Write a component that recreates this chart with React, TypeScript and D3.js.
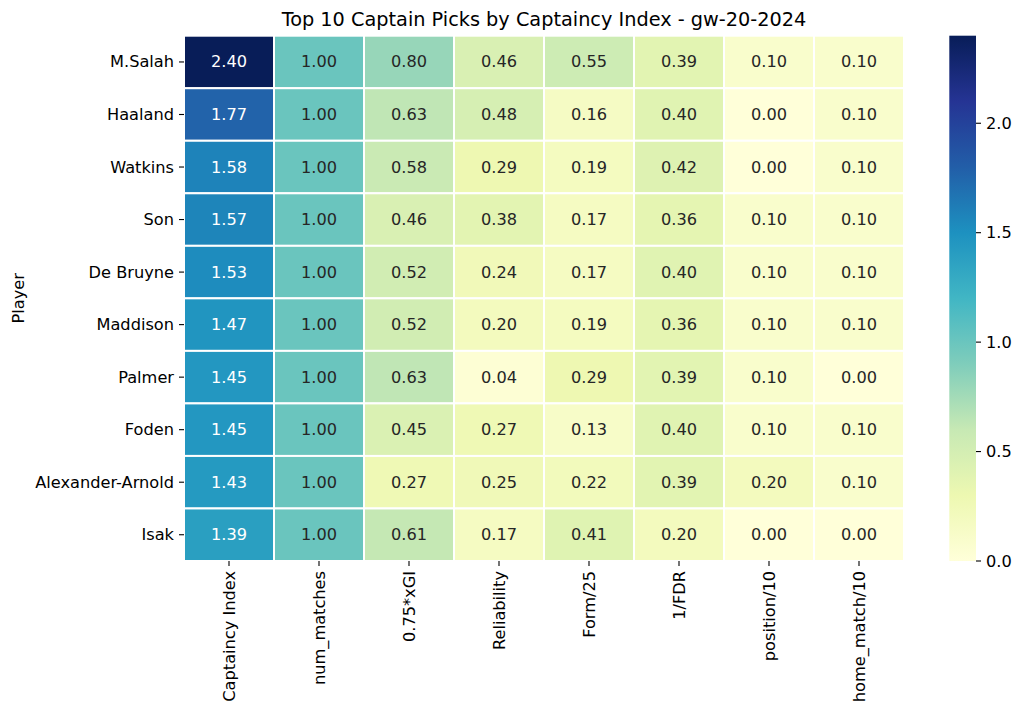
import React from "react";
import * as d3 from "d3";

const players = ["M.Salah", "Haaland", "Watkins", "Son", "De Bruyne", "Maddison", "Palmer", "Foden", "Alexander-Arnold", "Isak"];
const metrics = ["Captaincy Index", "num_matches", "0.75*xGI", "Reliability", "Form/25", "1/FDR", "position/10", "home_match/10"];

const captaincyIndex = [2.40, 1.77, 1.58, 1.57, 1.53, 1.47, 1.45, 1.45, 1.43, 1.39];
const numMatches = [1.00, 1.00, 1.00, 1.00, 1.00, 1.00, 1.00, 1.00, 1.00, 1.00];
const xGI = [0.80, 0.63, 0.58, 0.46, 0.52, 0.52, 0.63, 0.45, 0.27, 0.61];
const reliability = [0.46, 0.48, 0.29, 0.38, 0.24, 0.20, 0.04, 0.27, 0.25, 0.17];
const form = [0.55, 0.16, 0.19, 0.17, 0.17, 0.19, 0.29, 0.13, 0.22, 0.41];
const fdr = [0.39, 0.40, 0.42, 0.36, 0.40, 0.36, 0.39, 0.40, 0.39, 0.20];
const position = [0.10, 0.00, 0.00, 0.10, 0.10, 0.10, 0.10, 0.10, 0.20, 0.00];
const homeMatch = [0.10, 0.10, 0.10, 0.10, 0.10, 0.10, 0.00, 0.10, 0.10, 0.00];

const columns = [captaincyIndex, numMatches, xGI, reliability, form, fdr, position, homeMatch];
const colorbarTicks = [0, 0.5, 1.0, 1.5, 2.0];

const YLGNBU = ["#ffffd9", "#edf8b1", "#c7e9b4", "#7fcdbb", "#41b6c4", "#1d91c0", "#225ea8", "#253494", "#081d58"];

const FONT = "DejaVu Sans";

export default function App() {
  const W = 1024, H = 716;
  const left = 184, right = 904, top = 35.7, bottom = 561;
  const vmin = 0;
  const vmax = d3.max(columns.flat()) as number;

  const x = d3.scaleBand<string>().domain(metrics).range([left, right]);
  const y = d3.scaleBand<string>().domain(players).range([top, bottom]);

  const stops = YLGNBU.map((_, i) => vmin + (i / (YLGNBU.length - 1)) * (vmax - vmin));
  const color = d3.scaleLinear<string>().domain(stops).range(YLGNBU).interpolate(d3.interpolateRgb).clamp(true);

  const textColor = (c: string) => {
    const rgb = d3.rgb(c);
    const lin = (v: number) => {
      const s = v / 255;
      return s <= 0.03928 ? s / 12.92 : Math.pow((s + 0.055) / 1.055, 2.4);
    };
    const lum = 0.2126 * lin(rgb.r) + 0.7152 * lin(rgb.g) + 0.0722 * lin(rgb.b);
    return lum > 0.408 ? "#262626" : "#ffffff";
  };

  const cbLeft = 949.3, cbRight = 976, cbTop = top, cbBottom = bottom;
  const cbScale = d3.scaleLinear().domain([vmin, vmax]).range([cbBottom, cbTop]);

  const fs = 16.2;

  const cells: any[] = [];
  columns.forEach((col, ci) => {
    col.forEach((v, ri) => {
      const c = color(v);
      cells.push(
        <g key={`${ci}-${ri}`}>
          <rect x={x(metrics[ci])} y={y(players[ri])} width={x.bandwidth()} height={y.bandwidth()} fill={c} stroke="#ffffff" strokeWidth={2} />
          <text x={(x(metrics[ci]) as number) + x.bandwidth() / 2} y={(y(players[ri]) as number) + y.bandwidth() / 2} textAnchor="middle" dominantBaseline="central" fill={textColor(c)} fontSize={fs} fontFamily={FONT}>
            {v.toFixed(2)}
          </text>
        </g>
      );
    });
  });

  return (
    <svg width={W} height={H} style={{ position: "absolute", left: 0, top: 0, background: "#fff" }}>
      <defs>
        <linearGradient id="cbgrad" x1="0" y1="1" x2="0" y2="0">
          {YLGNBU.map((c, i) => (
            <stop key={i} offset={`${(i / (YLGNBU.length - 1)) * 100}%`} stopColor={c} />
          ))}
        </linearGradient>
      </defs>
      <rect x={0} y={0} width={W} height={H} fill="#fff" />
      <text x={(left + right) / 2} y={26.2} textAnchor="middle" fontSize={19.3} fontFamily={FONT} fill="#000">
        Top 10 Captain Picks by Captaincy Index - gw-20-2024
      </text>
      {cells}
      {players.map((p) => {
        const cy = (y(p) as number) + y.bandwidth() / 2;
        return (
          <g key={p}>
            <line x1={left - 5} x2={left} y1={cy} y2={cy} stroke="#000" strokeWidth={1.1} />
            <text x={left - 10} y={cy} textAnchor="end" dominantBaseline="central" fontSize={fs} fontFamily={FONT} fill="#000">{p}</text>
          </g>
        );
      })}
      {metrics.map((m) => {
        const cx = (x(m) as number) + x.bandwidth() / 2;
        return (
          <g key={m}>
            <line x1={cx} x2={cx} y1={bottom} y2={bottom + 5} stroke="#000" strokeWidth={1.1} />
            <text transform={`translate(${cx},${bottom + 10}) rotate(-90)`} textAnchor="end" dominantBaseline="central" fontSize={fs} fontFamily={FONT} fill="#000">{m}</text>
          </g>
        );
      })}
      <text transform={`translate(18,${(top + bottom) / 2}) rotate(-90)`} textAnchor="middle" dominantBaseline="central" fontSize={fs} fontFamily={FONT} fill="#000">Player</text>
      <rect x={cbLeft} y={cbTop} width={cbRight - cbLeft} height={cbBottom - cbTop} fill="url(#cbgrad)" />
      {colorbarTicks.map((t) => (
        <g key={t}>
          <line x1={cbRight} x2={cbRight + 5} y1={cbScale(t)} y2={cbScale(t)} stroke="#000" strokeWidth={1.1} />
          <text x={cbRight + 10} y={cbScale(t)} dominantBaseline="central" fontSize={fs} fontFamily={FONT} fill="#000">{t.toFixed(1)}</text>
        </g>
      ))}
    </svg>
  );
}
